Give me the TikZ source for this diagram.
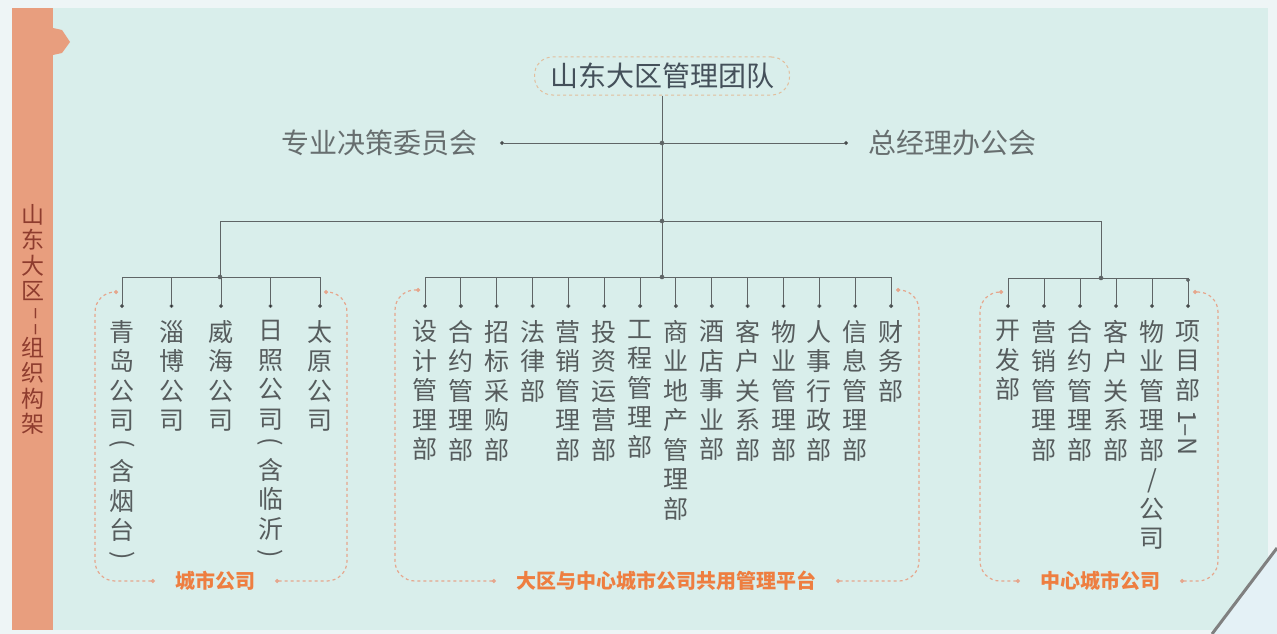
\documentclass[tikz,border=0pt]{standalone}
\usepackage{fontspec}
\usepackage{tikz}
\usetikzlibrary{positioning,arrows.meta}
\newfontfamily\cjk{Noto Sans CJK SC}

\definecolor{bgpale}{HTML}{EEF5F6}
\definecolor{mint}{HTML}{D9EEEB}
\definecolor{bannercol}{HTML}{E89E7E}
\definecolor{bannertxt}{HTML}{8E3C2E}
\definecolor{linegray}{HTML}{5F6566}
\definecolor{textgray}{HTML}{565C5D}
\definecolor{midgray}{HTML}{676E6F}
\definecolor{titlecol}{HTML}{44505A}
\definecolor{dashtan}{HTML}{E2BE9C}
\definecolor{dashpink}{HTML}{E6A68C}
\definecolor{labelorange}{HTML}{EE7E40}
\definecolor{curlcol}{HTML}{E4F1F6}

% rotated glyphs for the vertical text
\newcommand{\vopen}{\rotatebox[origin=c]{-90}{(}}
\newcommand{\vclose}{\rotatebox[origin=c]{-90}{)}}

\tikzset{
    dept/.style={
           font=\cjk\fontsize{25}{29.5}\selectfont,
           text=textgray,
           align=center,
           anchor=north,
           inner xsep=0pt,
           inner ysep=12pt,
           },
    committee/.style={
           font=\cjk\fontsize{28}{30}\selectfont,
           text=midgray,
           inner sep=0pt,
           },
    headbox/.style={
           rectangle,
           rounded corners=18pt,
           draw=dashtan, dashed, line width=1pt,
           font=\cjk\fontsize{28}{30}\selectfont,
           text=titlecol,
           minimum width=255pt,
           minimum height=38pt,
           },
    groupline/.style={
           draw=dashpink,
           line width=1.2pt,
           dash pattern=on 3pt off 3pt,
           rounded corners=20pt,
           shorten <=20pt,
           },
    grouplabel/.style={
           font=\cjk\bfseries\fontsize{20}{22}\selectfont,
           text=labelorange,
           inner sep=0pt,
           },
    bus/.style={
           draw=linegray,
           line width=1pt,
           },
}

\begin{document}
\begin{tikzpicture}
[
x=1pt,y=-1pt,
>={Circle[length=4pt]}
]
\useasboundingbox (0,0) rectangle (1277,634);

 % BACKGROUND
 \fill[bgpale] (0,0) rectangle (1277,634);
 \fill[mint] (53,8) rectangle (1268,630);
 \fill[curlcol] (1212,634) -- (1277,548) -- (1277,634) -- cycle;
 \draw[gray, line width=3pt] (1212,634) -- (1277,548);

 % BANNER on the left
 \fill[bannercol] (12,8) rectangle (53,630);
 \fill[bannercol] (53,28) -- (62,30) -- (70,42) -- (62,53) -- (53,55) -- cycle;
 \node[font=\cjk\fontsize{23}{25.5}\selectfont,
 text=bannertxt,
 align=center,
 anchor=north,
 inner sep=0pt] (BANNER) at (33,204)
 {山\\东\\大\\区\\\rotatebox[origin=c]{-90}{–\,–}\\组\\织\\构\\架};


 % TOP node
 \node[headbox] (TOP) at (662,76) {山东大区管理团队};

 \coordinate (HUBTOP) at (662,143);
 \coordinate (HUBMID) at (662,221);
 \coordinate (HUBLOW) at (662,277);

 % the two committees
 \node[committee,
 left=184pt of HUBTOP] (ZHUANYE)
 {专业决策委员会};

 \node[committee,
 right=206pt of HUBTOP] (ZONGJL)
 {总经理办公会};

 % second level hubs
 \coordinate (LHUB) at (220,221);
 \coordinate (RHUB) at (1101,221);
 \coordinate (LBUS) at (220,277);
 \coordinate (RBUS) at (1101,278);


 % LEFT GROUP : city companies
 \node[dept] (QINGDAO) at (122,308) {青\\岛\\公\\司\\[-8pt]\vopen\\含\\烟\\台\\[-6pt]\vclose};
 \node[dept] (ZIBO) at ([xshift=49.5pt]QINGDAO.north) {淄\\博\\公\\司};
 \node[dept] (WEIHAI) at ([xshift=49.5pt]ZIBO.north) {威\\海\\公\\司};
 \node[dept] (RIZHAO) at ([xshift=49.5pt]WEIHAI.north) {日\\照\\公\\司\\[-8pt]\vopen\\含\\临\\沂\\[-6pt]\vclose};
 \node[dept] (TAIYUAN) at ([xshift=49.5pt]RIZHAO.north) {太\\原\\公\\司};

 \node[grouplabel] (CITYLBL) at (215,581) {城市公司};


 % CENTER GROUP : shared platform
 \node[dept] (SHEJI) at (425,308) {设\\计\\管\\理\\部};
 \node[dept] (HETONG) at ([xshift=35.85pt]SHEJI.north) {合\\约\\管\\理\\部};
 \node[dept] (ZHAOBIAO) at ([xshift=35.85pt]HETONG.north) {招\\标\\采\\购\\部};
 \node[dept] (FALV) at ([xshift=35.85pt]ZHAOBIAO.north) {法\\律\\部};
 \node[dept] (YINGXIAO) at ([xshift=35.85pt]FALV.north) {营\\销\\管\\理\\部};
 \node[dept] (TOUZI) at ([xshift=35.85pt]YINGXIAO.north) {投\\资\\运\\营\\部};
 \node[dept] (GONGCHENG) at ([xshift=35.85pt]TOUZI.north) {工\\程\\管\\理\\部};
 \node[dept] (SHANGYE) at ([xshift=35.85pt]GONGCHENG.north) {商\\业\\地\\产\\管\\理\\部};
 \node[dept] (JIUDIAN) at ([xshift=35.85pt]SHANGYE.north) {酒\\店\\事\\业\\部};
 \node[dept] (KEHU) at ([xshift=35.85pt]JIUDIAN.north) {客\\户\\关\\系\\部};
 \node[dept] (WUYE) at ([xshift=35.85pt]KEHU.north) {物\\业\\管\\理\\部};
 \node[dept] (RENSHI) at ([xshift=35.85pt]WUYE.north) {人\\事\\行\\政\\部};
 \node[dept] (XINXI) at ([xshift=35.85pt]RENSHI.north) {信\\息\\管\\理\\部};
 \node[dept] (CAIWU) at ([xshift=35.85pt]XINXI.north) {财\\务\\部};

 \node[grouplabel] (SHARELBL) at (666,581) {大区与中心城市公司共用管理平台};


 % RIGHT GROUP : center city company
 \node[dept] (KAIFA) at (1008,308) {开\\发\\部};
 \node[dept] (CYINGXIAO) at ([xshift=36pt]KAIFA.north) {营\\销\\管\\理\\部};
 \node[dept] (CHETONG) at ([xshift=36pt]CYINGXIAO.north) {合\\约\\管\\理\\部};
 \node[dept] (CKEHU) at ([xshift=36pt]CHETONG.north) {客\\户\\关\\系\\部};
 \node[dept] (CWUYE) at ([xshift=36pt]CKEHU.north) {物\\业\\管\\理\\部\\/\\公\\司};
 \node[dept] (XIANGMU) at ([xshift=36pt]CWUYE.north) {项\\目\\部\\[8pt]\rotatebox[origin=c]{-90}{1–N}};

 \node[grouplabel] (CENTERLBL) at (1100,581) {中心城市公司};


 % draw the paths
 \draw[bus] (TOP) -- (HUBLOW);
 \path[bus]
  (ZHUANYE) edge[<->, shorten <=22pt, shorten >=20pt] (ZONGJL)
 ;
 \draw[bus] (LHUB) -- (RHUB);
 \draw[bus] (LHUB) -- (LBUS);
 \draw[bus] (RHUB) -- (RBUS);

 \draw[bus] (QINGDAO.north |- LBUS) -- (TAIYUAN.north |- LBUS);
 \draw[bus] (SHEJI.north |- HUBLOW) -- (CAIWU.north |- HUBLOW);
 \draw[bus] (KAIFA.north |- RBUS) -- (XIANGMU.north |- RBUS);

 \foreach \p in {HUBTOP,HUBMID,HUBLOW,LBUS,RBUS}
  \fill[linegray] (\p) circle (2.3pt);

 \path[bus,->]
  (QINGDAO.north |- LBUS) edge (QINGDAO)
  (ZIBO.north |- LBUS) edge (ZIBO)
  (WEIHAI.north |- LBUS) edge (WEIHAI)
  (RIZHAO.north |- LBUS) edge (RIZHAO)
  (TAIYUAN.north |- LBUS) edge (TAIYUAN)
  (SHEJI.north |- HUBLOW) edge (SHEJI)
  (HETONG.north |- HUBLOW) edge (HETONG)
  (ZHAOBIAO.north |- HUBLOW) edge (ZHAOBIAO)
  (FALV.north |- HUBLOW) edge (FALV)
  (YINGXIAO.north |- HUBLOW) edge (YINGXIAO)
  (TOUZI.north |- HUBLOW) edge (TOUZI)
  (GONGCHENG.north |- HUBLOW) edge (GONGCHENG)
  (SHANGYE.north |- HUBLOW) edge (SHANGYE)
  (JIUDIAN.north |- HUBLOW) edge (JIUDIAN)
  (KEHU.north |- HUBLOW) edge (KEHU)
  (WUYE.north |- HUBLOW) edge (WUYE)
  (RENSHI.north |- HUBLOW) edge (RENSHI)
  (XINXI.north |- HUBLOW) edge (XINXI)
  (CAIWU.north |- HUBLOW) edge (CAIWU)
  (KAIFA.north |- RBUS) edge (KAIFA)
  (CYINGXIAO.north |- RBUS) edge (CYINGXIAO)
  (CHETONG.north |- RBUS) edge (CHETONG)
  (CKEHU.north |- RBUS) edge (CKEHU)
  (CWUYE.north |- RBUS) edge (CWUYE)
  (XIANGMU.north |- RBUS) edge (XIANGMU)
 ;

 % dashed group frames, open at the label
 \draw[groupline,<->] (CITYLBL.west) -- (95,581) -- (95,292) -- (118,292);
 \draw[groupline,<->] (CITYLBL.east) -- (347,581) -- (347,292) -- (324,292);
 \draw[groupline,<->] (SHARELBL.west) -- (395,581) -- (395,290) -- (420,290);
 \draw[groupline,<->] (SHARELBL.east) -- (919,581) -- (919,290) -- (896,290);
 \draw[groupline,<->] (CENTERLBL.west) -- (980,581) -- (980,292) -- (1003,292);
 \draw[groupline,<->] (CENTERLBL.east) -- (1218,581) -- (1218,292) -- (1193,292);

\end{tikzpicture}
\end{document}
